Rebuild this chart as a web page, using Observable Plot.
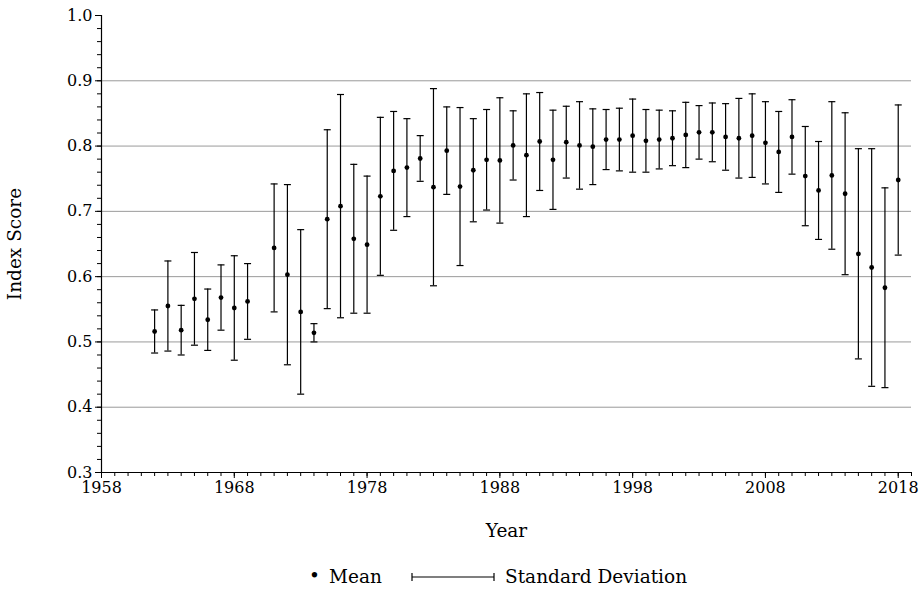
<!DOCTYPE html>
<html><head><meta charset="utf-8">
<script src="https://cdn.jsdelivr.net/npm/d3@7"></script>
<script src="https://cdn.jsdelivr.net/npm/@observablehq/plot@0.6"></script>
<style>
body{margin:0;background:#fff;font-family:"DejaVu Serif",serif;color:#000;}
#legend{position:relative;height:38px;width:922px;font-size:18.5px;line-height:22px;font-family:"DejaVu Serif",serif;}
#legend span,#legend svg{position:absolute;}
</style></head><body>
<div id="chart"></div>
<div id="legend">
  <span style="left:309px;top:13px;">•</span>
  <span style="left:329px;top:14px;">Mean</span>
  <svg style="left:411px;top:20px;" width="84" height="10"><line x1="1" y1="5" x2="83" y2="5" stroke="#000" stroke-width="1.2"/><line x1="1" y1="1" x2="1" y2="9" stroke="#000" stroke-width="1.2"/><line x1="83" y1="1" x2="83" y2="9" stroke="#000" stroke-width="1.2"/></svg>
  <span style="left:505px;top:14px;">Standard Deviation</span>
</div>
<script>
const years = [1962,1963,1964,1965,1966,1967,1968,1969,1971,1972,1973,1974,1975,1976,1977,1978,1979,1980,1981,1982,1983,1984,1985,1986,1987,1988,1989,1990,1991,1992,1993,1994,1995,1996,1997,1998,1999,2000,2001,2002,2003,2004,2005,2006,2007,2008,2009,2010,2011,2012,2013,2014,2015,2016,2017,2018];
const means = [0.516,0.555,0.518,0.566,0.534,0.568,0.552,0.562,0.644,0.603,0.546,0.514,0.688,0.708,0.658,0.649,0.723,0.762,0.767,0.781,0.737,0.793,0.738,0.763,0.779,0.778,0.801,0.786,0.807,0.779,0.806,0.801,0.799,0.810,0.810,0.816,0.808,0.810,0.812,0.817,0.821,0.821,0.814,0.812,0.816,0.805,0.791,0.814,0.754,0.732,0.755,0.727,0.635,0.614,0.583,0.748];
const sds = [0.033,0.069,0.038,0.071,0.047,0.050,0.080,0.058,0.098,0.138,0.126,0.014,0.137,0.171,0.114,0.105,0.121,0.091,0.075,0.035,0.151,0.067,0.121,0.079,0.077,0.096,0.053,0.094,0.075,0.076,0.055,0.067,0.058,0.046,0.048,0.056,0.048,0.045,0.042,0.050,0.041,0.045,0.051,0.061,0.064,0.063,0.062,0.057,0.076,0.075,0.113,0.124,0.161,0.182,0.153,0.115];
const yTicks = [0.3,0.4,0.5,0.6,0.7,0.8,0.9,1.0];
const yGrid = [0.4,0.5,0.6,0.7,0.8,0.9];
const xTicks = [1958,1968,1978,1988,1998,2008,2018];
const xDomain = [1958,2019];
const yDomain = [0.3,1.0];

const data = years.map((year,i)=>({year, mean:means[i], lo:means[i]-sds[i], hi:means[i]+sds[i]}));
const yMinor = d3.range(0,36).map(i=>+(0.3+i*0.02).toFixed(2));
const xMinor = d3.range(xDomain[0], xDomain[1]+1);
const cap = {draw(ctx){ctx.moveTo(-3.5,0);ctx.lineTo(3.5,0);}};

const plot = Plot.plot({
  width:922, height:552,
  marginLeft:101, marginRight:11, marginTop:15, marginBottom:80,
  style:{fontFamily:"'DejaVu Serif', serif", fontSize:"16px", color:"#000", background:"#fff"},
  x:{domain:xDomain},
  y:{domain:yDomain},
  marks:[
    Plot.ruleY(yGrid,{stroke:"#9a9a9a", strokeWidth:1}),
    Plot.axisX(xMinor,{tickSize:4, text:null, label:null}),
    Plot.axisX(xTicks,{tickSize:6, tickFormat:"d", tickPadding:3, label:null}),
    Plot.axisX([],{tickSize:0, label:"Year", labelAnchor:"center", labelArrow:"none", labelOffset:64, fontSize:18.5}),
    Plot.axisY(yMinor,{tickSize:4, text:null, label:null}),
    Plot.axisY(yTicks,{tickSize:6, tickFormat:".1f", tickPadding:3, label:null}),
    Plot.axisY([],{tickSize:0, label:"Index Score", labelAnchor:"center", labelArrow:"none", labelOffset:94, fontSize:18.5}),
    Plot.ruleX([xDomain[0]],{stroke:"#000", strokeWidth:1.2}),
    Plot.ruleY([yDomain[0]],{stroke:"#000", strokeWidth:1.2}),
    Plot.ruleX(data,{x:"year", y1:"lo", y2:"hi", stroke:"#000", strokeWidth:1.2}),
    Plot.dot(data,{x:"year", y:"hi", symbol:cap, stroke:"#000", strokeWidth:1.2}),
    Plot.dot(data,{x:"year", y:"lo", symbol:cap, stroke:"#000", strokeWidth:1.2}),
    Plot.dot(data,{x:"year", y:"mean", r:2.4, fill:"#000", stroke:"none"})
  ]
});
document.getElementById("chart").append(plot);
</script>
</body></html>
